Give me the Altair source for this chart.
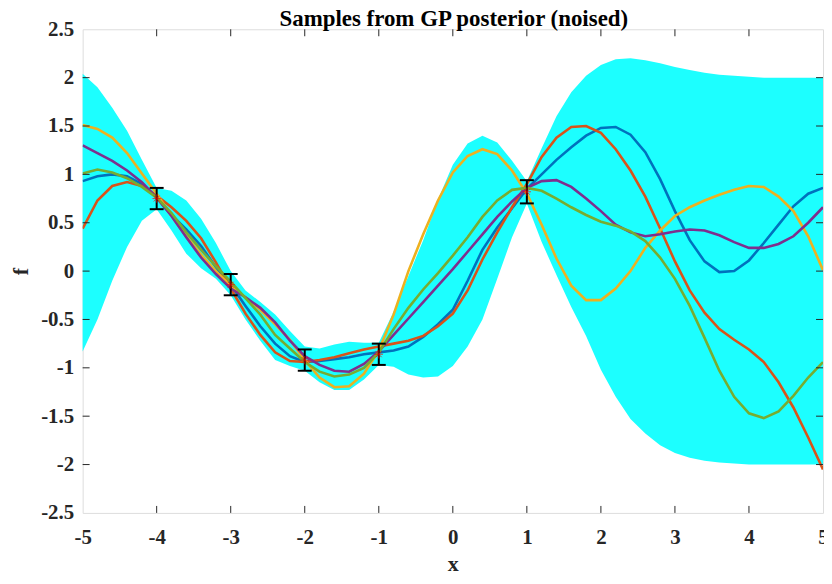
import altair as alt
import pandas as pd

x_grid = [-5.0, -4.8, -4.6, -4.4, -4.2, -4.0, -3.8, -3.6, -3.4, -3.2,
          -3.0, -2.8, -2.6, -2.4, -2.2, -2.0, -1.8, -1.6, -1.4, -1.2,
          -1.0, -0.8, -0.6, -0.4, -0.2, 0.0, 0.2, 0.4, 0.6, 0.8,
          1.0, 1.2, 1.4, 1.6, 1.8, 2.0, 2.2, 2.4, 2.6, 2.8,
          3.0, 3.2, 3.4, 3.6, 3.8, 4.0, 4.2, 4.4, 4.6, 4.8, 5.0]

band_upper = [2.04, 1.90, 1.69, 1.45, 1.15, 0.86, 0.83, 0.73, 0.54, 0.29,
              0.00, -0.20, -0.32, -0.45, -0.62, -0.78, -0.80, -0.76, -0.73, -0.74,
              -0.74, -0.42, -0.05, 0.32, 0.74, 1.10, 1.32, 1.40, 1.33, 1.14,
              0.93, 1.27, 1.60, 1.85, 2.02, 2.13, 2.19, 2.20, 2.18, 2.15,
              2.11, 2.08, 2.05, 2.03, 2.02, 2.01, 2.00, 2.00, 2.00, 2.00, 2.00]

band_lower = [-0.83, -0.50, -0.10, 0.25, 0.52, 0.64, 0.42, 0.18, 0.03, -0.08,
              -0.25, -0.50, -0.72, -0.92, -0.98, -1.03, -1.15, -1.23, -1.23, -1.12,
              -0.97, -0.99, -1.07, -1.10, -1.09, -0.98, -0.78, -0.50, -0.08, 0.35,
              0.70, 0.30, -0.04, -0.37, -0.67, -1.02, -1.30, -1.53, -1.68, -1.80,
              -1.88, -1.93, -1.96, -1.98, -1.99, -2.00, -2.00, -2.00, -2.00, -2.00, -2.00]

sample_blue = [0.93, 0.98, 1.00, 0.98, 0.90, 0.76, 0.58, 0.43, 0.26, 0.04,
               -0.14, -0.36, -0.57, -0.75, -0.88, -0.94, -0.93, -0.91, -0.89, -0.86,
               -0.84, -0.82, -0.78, -0.68, -0.55, -0.40, -0.10, 0.22, 0.45, 0.65,
               0.85, 1.00, 1.15, 1.28, 1.40, 1.48, 1.49, 1.41, 1.23, 0.95,
               0.62, 0.32, 0.10, -0.01, 0.00, 0.11, 0.29, 0.48, 0.67, 0.80, 0.86]

sample_orange = [0.44, 0.73, 0.88, 0.92, 0.88, 0.78, 0.66, 0.52, 0.34, 0.09,
                 -0.18, -0.44, -0.66, -0.84, -0.93, -0.94, -0.92, -0.89, -0.85, -0.81,
                 -0.78, -0.75, -0.72, -0.67, -0.57, -0.44, -0.20, 0.12, 0.40, 0.66,
                 0.90, 1.18, 1.38, 1.49, 1.50, 1.43, 1.26, 1.04, 0.77, 0.44,
                 0.10, -0.20, -0.43, -0.60, -0.71, -0.81, -0.94, -1.15, -1.41, -1.72, -2.05]

sample_yellow = [1.51, 1.47, 1.38, 1.22, 1.01, 0.80, 0.57, 0.36, 0.17, 0.00,
                 -0.15, -0.27, -0.40, -0.55, -0.71, -0.92, -1.10, -1.20, -1.19, -1.06,
                 -0.82, -0.45, 0.00, 0.38, 0.73, 1.02, 1.19, 1.26, 1.21, 1.04,
                 0.80, 0.48, 0.13, -0.15, -0.30, -0.30, -0.18, 0.00, 0.24, 0.42,
                 0.57, 0.66, 0.73, 0.79, 0.84, 0.88, 0.87, 0.77, 0.62, 0.36, 0.01]

sample_purple = [1.30, 1.22, 1.14, 1.04, 0.92, 0.76, 0.57, 0.35, 0.14, -0.03,
                 -0.18, -0.27, -0.38, -0.53, -0.72, -0.88, -0.97, -1.03, -1.04, -0.96,
                 -0.83, -0.66, -0.49, -0.32, -0.15, 0.02, 0.20, 0.38, 0.56, 0.72,
                 0.86, 0.93, 0.94, 0.87, 0.75, 0.62, 0.48, 0.40, 0.36, 0.38,
                 0.41, 0.43, 0.42, 0.37, 0.30, 0.24, 0.24, 0.28, 0.36, 0.50, 0.66]

sample_green = [1.01, 1.05, 1.02, 0.96, 0.87, 0.76, 0.60, 0.40, 0.22, 0.05,
                -0.11, -0.28, -0.45, -0.66, -0.80, -0.94, -1.04, -1.09, -1.07, -1.00,
                -0.84, -0.60, -0.38, -0.19, -0.02, 0.16, 0.35, 0.56, 0.73, 0.84,
                0.86, 0.83, 0.75, 0.66, 0.58, 0.51, 0.47, 0.41, 0.31, 0.14,
                -0.08, -0.36, -0.69, -1.03, -1.30, -1.47, -1.52, -1.45, -1.29, -1.10, -0.94]

obs_x = [-4, -3, -2, -1, 1]
obs_y = [0.75, -0.14, -0.92, -0.86, 0.82]
obs_err = [0.11, 0.11, 0.11, 0.11, 0.12]

x_ticks = [-5, -4, -3, -2, -1, 0, 1, 2, 3, 4, 5]
y_ticks = [-2.5, -2, -1.5, -1, -0.5, 0, 0.5, 1, 1.5, 2, 2.5]
x_inner = [-4, -3, -2, -1, 0, 1, 2, 3, 4]
y_inner = [-2, -1.5, -1, -0.5, 0, 0.5, 1, 1.5, 2]

title_text = ["Samples from GP posterior (noised)"]

series = [
    ("blue", sample_blue, "#0072BD"),
    ("orange", sample_orange, "#D95319"),
    ("yellow", sample_yellow, "#EDB120"),
    ("purple", sample_purple, "#7E2F8E"),
    ("green", sample_green, "#77AC30"),
]

W, H = 744, 486
FONT = "Liberation Serif"
AX = "#262626"

df = pd.DataFrame({"x": x_grid, "lo": band_lower, "hi": band_upper})
for name, vals, _ in series:
    df[name] = vals

obs = pd.DataFrame({"x": obs_x, "y": obs_y, "e": obs_err})
obs["lo"] = obs["y"] - obs["e"]
obs["hi"] = obs["y"] + obs["e"]

xs = alt.Scale(domain=[-5, 5], nice=False, zero=False)
ys = alt.Scale(domain=[-2.5, 2.5], nice=False, zero=False)

minus_fix = "replace(datum.label, '\u2212', '-')"

x_axis = alt.Axis(values=x_ticks, format="~g", tickSize=0, domain=False, grid=False,
                  labelFont=FONT, labelFontWeight="bold", labelFontSize=21,
                  labelColor=AX, labelPadding=14, labelExpr=minus_fix,
                  labelFlush=False, labelOverlap=False,
                  title="x", titleFont=FONT, titleFontWeight="bold",
                  titleFontSize=22, titleColor=AX, titlePadding=6)
y_axis = alt.Axis(values=y_ticks, format="~g", tickSize=0, domain=False, grid=False,
                  labelFont=FONT, labelFontWeight="bold", labelFontSize=21,
                  labelColor=AX, labelPadding=9, labelExpr=minus_fix,
                  labelFlush=False, labelOverlap=False,
                  title="f", titleFont=FONT, titleFontWeight="bold",
                  titleFontSize=22, titleColor=AX, titlePadding=8)

base = alt.Chart(df)

band = base.mark_area(color="#1CFFFF", opacity=1, interpolate="linear").encode(
    x=alt.X("x:Q", scale=xs, axis=x_axis),
    y=alt.Y("lo:Q", scale=ys, axis=y_axis),
    y2="hi:Q",
)

layers = [band]
for name, _, col in series:
    layers.append(
        base.mark_line(color=col, strokeWidth=2.6, clip=True).encode(
            x=alt.X("x:Q", scale=xs),
            y=alt.Y(f"{name}:Q", scale=ys),
        )
    )

ob = alt.Chart(obs)
err_rule = ob.mark_rule(color="black", strokeWidth=2).encode(
    x=alt.X("x:Q", scale=xs), y=alt.Y("lo:Q", scale=ys), y2="hi:Q")
cap_lo = ob.mark_rule(color="black", strokeWidth=2, xOffset=-7, x2Offset=7).encode(
    x=alt.X("x:Q", scale=xs), x2="x:Q", y=alt.Y("lo:Q", scale=ys))
cap_hi = ob.mark_rule(color="black", strokeWidth=2, xOffset=-7, x2Offset=7).encode(
    x=alt.X("x:Q", scale=xs), x2="x:Q", y=alt.Y("hi:Q", scale=ys))

asterisk = "M-1,0L1,0M0,-1L0,1M-0.7,-0.7L0.7,0.7M-0.7,0.7L0.7,-0.7"
pts = ob.mark_point(shape=asterisk, size=70, color="red", filled=False,
                    strokeWidth=1).encode(
    x=alt.X("x:Q", scale=xs), y=alt.Y("y:Q", scale=ys))

layers += [err_rule, cap_lo, cap_hi, pts]

xt = alt.Chart(pd.DataFrame({"v": x_inner}))
yt = alt.Chart(pd.DataFrame({"v": y_inner}))
tick_layers = [
    xt.mark_rule(color=AX, strokeWidth=1).encode(
        x=alt.X("v:Q", scale=xs), y=alt.value(H), y2=alt.value(H - 7)),
    xt.mark_rule(color=AX, strokeWidth=1).encode(
        x=alt.X("v:Q", scale=xs), y=alt.value(0), y2=alt.value(7)),
    yt.mark_rule(color=AX, strokeWidth=1).encode(
        y=alt.Y("v:Q", scale=ys), x=alt.value(0), x2=alt.value(7)),
    yt.mark_rule(color=AX, strokeWidth=1).encode(
        y=alt.Y("v:Q", scale=ys), x=alt.value(W), x2=alt.value(W - 7)),
]
layers += tick_layers

title_layer = alt.Chart(pd.DataFrame({"t": title_text})).mark_text(
    font=FONT, fontSize=23, fontWeight="bold", color="black",
    align="center", baseline="alphabetic").encode(
    text="t:N", x=alt.value(W / 2 + 1), y=alt.value(-3))
layers.append(title_layer)

chart = alt.layer(*layers).properties(
    width=W, height=H,
    autosize=alt.AutoSizeParams(type="none"),
    padding={"left": 75, "top": 20, "right": 1, "bottom": 60},
).configure_view(stroke=AX, strokeWidth=1).configure(background="white")

chart.save("out.html", embed_options={"renderer": "svg", "actions": False})
